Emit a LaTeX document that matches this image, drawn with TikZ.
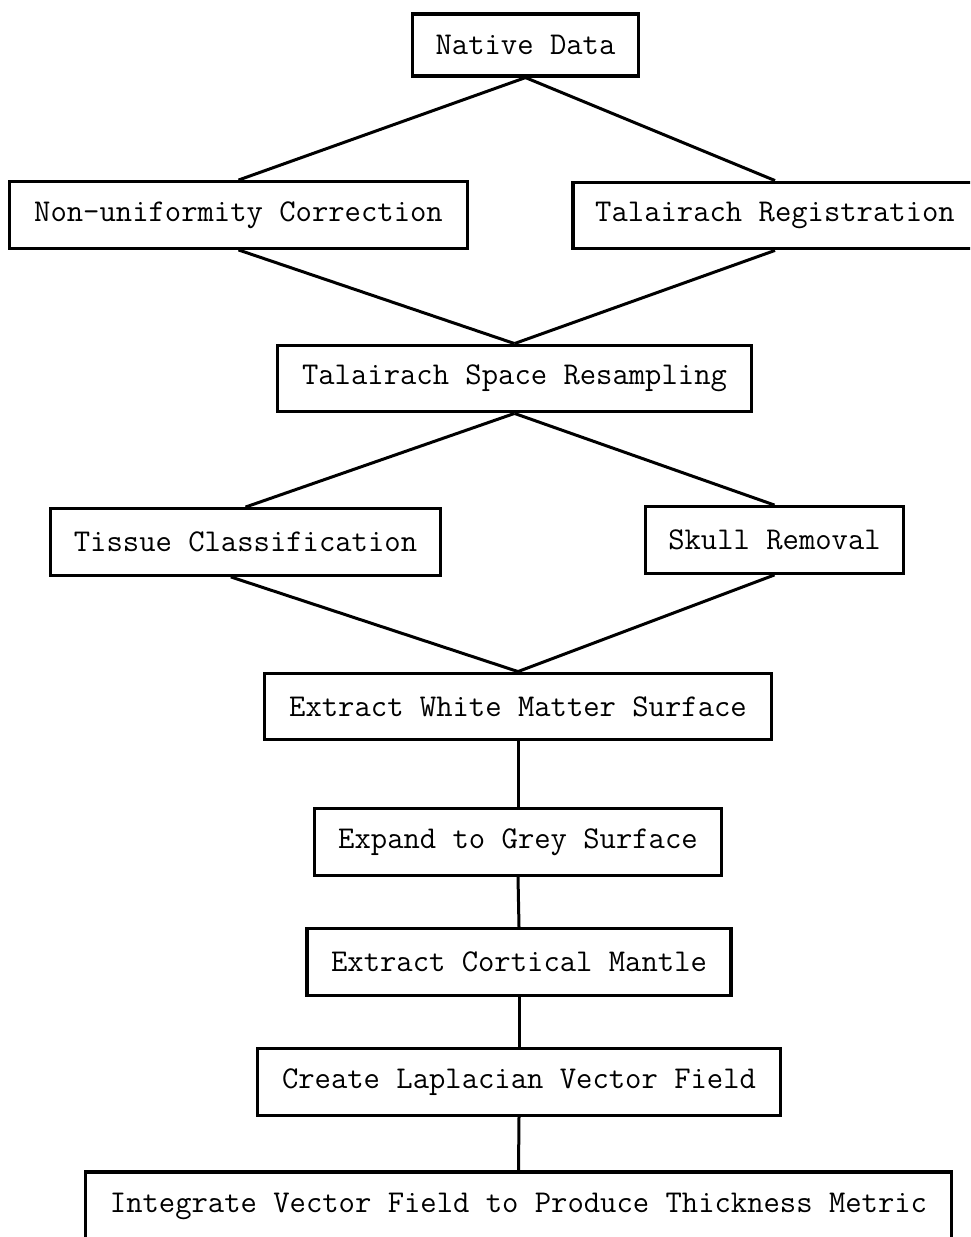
\documentclass[tikz,border=0pt]{standalone}
\begin{document}
\begin{tikzpicture}[
  x=0.75pt, y=-0.75pt,
  box/.style={rectangle, draw, line width=2.4pt, minimum height=50pt,
              inner sep=0pt, font=\ttfamily\fontsize{23.8}{28}\selectfont},
  link/.style={line width=2.25pt}
]
  \clip (0,0) rectangle (970,1237);
  \fill[white] (0,0) rectangle (970,1237);

  \node[box, minimum width=170pt, minimum height=46.5pt] (native) at (525.5, 45)   {Native Data};
  \node[box, minimum width=343pt] (nonunif) at (238.5, 215)  {Non-uniformity Correction};
  \node[box, minimum width=303pt] (talreg)  at (775, 215.5)  {Talairach Registration};
  \node[box, minimum width=355pt] (resamp)  at (514.5, 378.5) {Talairach Space Resampling};
  \node[box, minimum width=293pt] (tissue)  at (245.5, 542)  {Tissue Classification};
  \node[box, minimum width=194pt] (skull)   at (774.5, 540)  {Skull Removal};
  \node[box, minimum width=380pt] (white)   at (518, 706.5)  {Extract White Matter Surface};
  \node[box, minimum width=305pt] (grey)    at (518, 842)    {Expand to Grey Surface};
  \node[box, minimum width=318pt] (mantle)  at (519, 962)    {Extract Cortical Mantle};
  \node[box, minimum width=392pt] (lapl)    at (519, 1082)   {Create Laplacian Vector Field};
  \node[box, minimum width=650pt, minimum height=51pt] (integ) at (518.5, 1206) {Integrate Vector Field to Produce Thickness Metric};

  \draw[link] (native.south)  -- (nonunif.north);
  \draw[link] (native.south)  -- (talreg.north);
  \draw[link] (nonunif.south) -- (resamp.north);
  \draw[link] (talreg.south)  -- (resamp.north);
  \draw[link] (resamp.south)  -- (tissue.north);
  \draw[link] (resamp.south)  -- (skull.north);
  \draw[link] ([xshift=-11pt]tissue.south) -- (white.north);
  \draw[link] (skull.south)   -- (white.north);
  \draw[link] (white.south)   -- (grey.north);
  \draw[link] (grey.south)    -- (mantle.north);
  \draw[link] (mantle.south)  -- (lapl.north);
  \draw[link] (lapl.south)    -- (integ.north);

\end{tikzpicture}
\end{document}
